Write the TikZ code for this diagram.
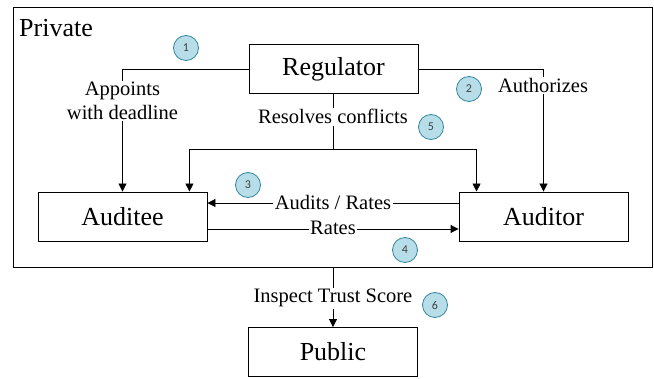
\documentclass[tikz,border=0pt]{standalone}
\usepackage{fontspec}
\setmainfont{Liberation Serif}
\newfontfamily\circfont{Carlito}
\usetikzlibrary{arrows.meta}
\definecolor{circfill}{HTML}{B7DEE8}
\definecolor{circline}{HTML}{31859C}
\definecolor{circtext}{HTML}{404040}
\tikzset{
  box/.style={draw, line width=0.9pt, minimum width=169pt, minimum height=49pt, inner sep=0pt, font=\fontsize{26}{30}\selectfont},
  lbl/.style={fill=white, inner sep=1.5pt, font=\fontsize{20.5}{24}\selectfont, align=center},
  arr/.style={line width=0.9pt, -{Triangle[length=8pt,width=8pt]}},
  ln/.style={line width=0.9pt},
  num/.style={circle, draw=circline, fill=circfill, line width=0.8pt, minimum size=25pt, inner sep=0pt, text=circtext, font=\circfont\fontsize{12}{14}\selectfont},
}
\begin{document}
\begin{tikzpicture}[x=1pt, y=-1pt]
\useasboundingbox (0,0) rectangle (654,379);
% frame
\node[draw, line width=0.9pt, minimum width=639pt, minimum height=260pt, inner sep=0pt] (private) at (332.5,137) {};
\node[anchor=base west, inner sep=0pt, font=\fontsize{26}{30}\selectfont] (privlbl) at (19,37) {Private};
% boxes
\node[box] (reg) at (333.5,69) {Regulator};
\node[box] (auditee) at (122.5,216.5) {Auditee};
\node[box] (auditor) at (543.5,216.5) {Auditor};
\node[box] (public) at (333,352) {Public};
% connectors
\draw[arr] (reg.west) -| (auditee.north);
\draw[arr] (reg.east) -| (auditor.north);
\coordinate (j) at (333.5,149);
\draw[ln] (reg.south) -- (j);
\draw[arr] (j) -| ([xshift=-18pt]auditee.north east);
\draw[arr] (j) -| ([xshift=18pt]auditor.north west);
\draw[arr] ([yshift=13.5pt]auditor.west) -- ([yshift=13.5pt]auditee.east);
\draw[arr] ([yshift=-12.5pt]auditee.east) -- ([yshift=-12.5pt]auditor.west);
\draw[arr] (private.south -| public.north) -- (public.north);
% labels
\node[lbl] (appoints) at (122.5,101) {Appoints\\with deadline};
\node[lbl, anchor=base] (resolves) at (333,124) {Resolves conflicts};
\node[lbl, anchor=base] (authorizes) at (543,92.7) {Authorizes};
\node[lbl, anchor=base] (audits) at (333,210) {Audits / Rates};
\node[lbl, anchor=base] (rates) at (333,235) {Rates};
\node[lbl, anchor=base] (inspect) at (333,303) {Inspect Trust Score};
% numbers
\node[num] (n1) at (186,48) {1};
\node[num] (n2) at (469,89) {2};
\node[num] (n3) at (248,185) {3};
\node[num] (n4) at (405,250) {4};
\node[num] (n5) at (431,127) {5};
\node[num] (n6) at (435,305) {6};
\end{tikzpicture}
\end{document}
